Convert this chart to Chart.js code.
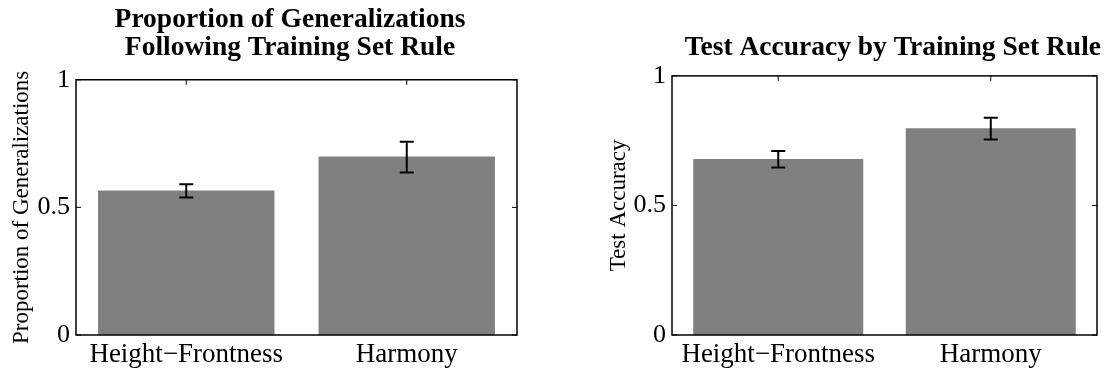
<!DOCTYPE html>
<html>
<head>
<meta charset="utf-8">
<script src="https://cdn.jsdelivr.net/npm/chart.js@4/dist/chart.umd.min.js"></script>
<style>
  html, body { margin: 0; padding: 0; background: #fff; }
  body { width: 1105px; height: 370px; position: relative; overflow: hidden; }
  canvas { position: absolute; top: 0; }
</style>
</head>
<body>
<canvas id="c1" width="580" height="370" style="left:0px"></canvas>
<canvas id="c2" width="511" height="370" style="left:590px"></canvas>
<script>
// ---- data ----
const categories = ['Height\u2212Frontness', 'Harmony'];
const yTickValues = [0, 0.5, 1];
const yTickLabels = ['0', '0.5', '1'];

const genValues = [0.566, 0.699];
const genErrLow = [0.539, 0.637];
const genErrHigh = [0.591, 0.757];

const accValues = [0.679, 0.798];
const accErrLow = [0.646, 0.754];
const accErrHigh = [0.710, 0.838];

const SERIF = '"Liberation Serif", "Times New Roman", serif';

const framePlugin = {
  id: 'frameTicks',
  afterDatasetsDraw(chart, args, opts) {
    const { ctx, chartArea: a, scales } = chart;
    const y = scales.y, x = scales.x;
    ctx.save();
    ctx.strokeStyle = '#000';
    // error bars
    const meta = chart.getDatasetMeta(0);
    ctx.lineWidth = 2;
    meta.data.forEach((bar, i) => {
      const yl = y.getPixelForValue(opts.low[i]);
      const yh = y.getPixelForValue(opts.high[i]);
      ctx.beginPath();
      ctx.moveTo(bar.x, yl); ctx.lineTo(bar.x, yh);
      ctx.moveTo(bar.x - 7, yl); ctx.lineTo(bar.x + 7, yl);
      ctx.moveTo(bar.x - 7, yh); ctx.lineTo(bar.x + 7, yh);
      ctx.stroke();
    });
    // frame
    ctx.lineWidth = 1.5;
    ctx.strokeRect(a.left, a.top, a.right - a.left, a.bottom - a.top);
    // inner ticks
    ctx.lineWidth = 1;
    yTickValues.forEach(v => {
      const py = y.getPixelForValue(v);
      ctx.beginPath();
      ctx.moveTo(a.left, py); ctx.lineTo(a.left + 5, py);
      ctx.moveTo(a.right, py); ctx.lineTo(a.right - 5, py);
      ctx.stroke();
    });
    categories.forEach((c, i) => {
      const px = x.getPixelForValue(i);
      ctx.beginPath();
      ctx.moveTo(px, a.top); ctx.lineTo(px, a.top + 5);
      ctx.stroke();
    });
    ctx.restore();
  }
};

function makeChart(id, values, low, high, titleText, yTitle, cfg) {
  return new Chart(document.getElementById(id), {
    type: 'bar',
    data: {
      labels: categories,
      datasets: [{
        data: values,
        backgroundColor: '#808080',
        borderWidth: 0,
        barPercentage: 0.8,
        categoryPercentage: 1.0
      }]
    },
    options: {
      responsive: false,
      animation: false,
      devicePixelRatio: 1,
      layout: { padding: 0 },
      plugins: {
        legend: { display: false },
        tooltip: { enabled: false },
        title: {
          display: true,
          text: titleText,
          color: '#000',
          align: cfg.titleAlign,
          font: { family: SERIF, size: 27.5, weight: 'bold', lineHeight: 1.05 },
          padding: cfg.titlePad
        },
        frameTicks: { low: low, high: high }
      },
      scales: {
        x: {
          grid: { display: false, drawTicks: false },
          border: { display: false },
          ticks: { color: '#000', font: { family: SERIF, size: 27 }, padding: 4, maxRotation: 0 },
          afterFit: s => { s.height = 35; }
        },
        y: {
          min: 0, max: 1,
          afterBuildTicks: s => { s.ticks = yTickValues.map(v => ({ value: v })); },
          grid: { display: false, drawTicks: false },
          border: { display: false },
          ticks: {
            color: '#000',
            font: { family: SERIF, size: 26 },
            padding: 6,
            callback: (v) => yTickLabels[yTickValues.indexOf(v)]
          },
          title: {
            display: true,
            text: yTitle,
            color: '#000',
            font: { family: SERIF, size: 23, lineHeight: 1.2 },
            padding: { top: cfg.yTitlePad, bottom: 0 }
          },
          afterFit: s => { s.width = cfg.yWidth; }
        },
        yR: {
          position: 'right',
          display: true,
          grid: { display: false, drawTicks: false },
          border: { display: false },
          ticks: { display: false },
          afterFit: s => { s.width = cfg.padRight; }
        }
      }
    },
    plugins: [framePlugin]
  });
}

makeChart('c1', genValues, genErrLow, genErrHigh,
  ['Proportion of Generalizations', 'Following Training Set Rule'],
  'Proportion of Generalizations',
  { padRight: 63, titleAlign: 'center', titlePad: { top: 5, bottom: 17 }, yWidth: 76, yTitlePad: 8 });

makeChart('c2', accValues, accErrLow, accErrHigh,
  'Test Accuracy by Training Set Rule',
  'Test Accuracy',
  { padRight: 4, titleAlign: 'end', titlePad: { top: 33, bottom: 14 }, yWidth: 82, yTitlePad: 15 });
</script>
</body>
</html>
